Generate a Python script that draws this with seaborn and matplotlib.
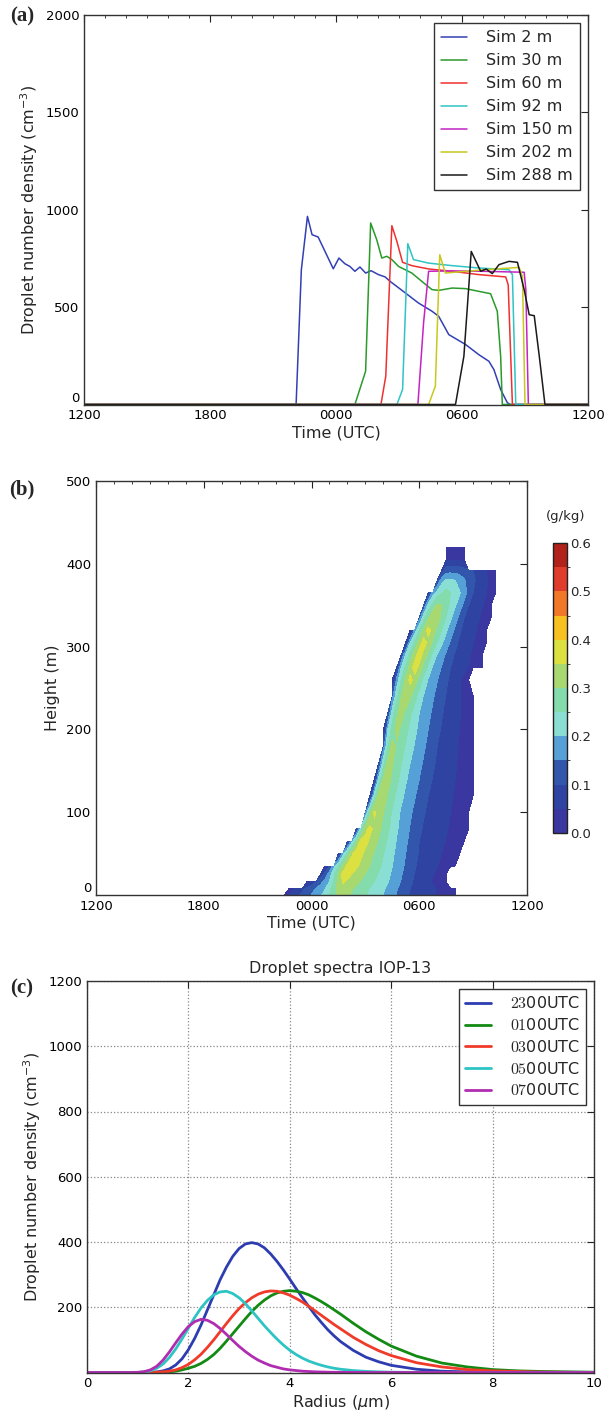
import matplotlib
matplotlib.use("Agg")

import matplotlib.pyplot as plt
import numpy as np
import seaborn as sns
from matplotlib.colors import BoundaryNorm, ListedColormap
from matplotlib.ticker import MultipleLocator


# ---------------------------------------------------------------------------
# Data (time axis = hours after 1200 UTC)
# ---------------------------------------------------------------------------

HOUR_TICKS = [0, 6, 12, 18, 24]
HOUR_LABELS = ["1200", "1800", "0000", "0600", "1200"]

# (a) droplet number density time series per model level
SIM_2M_T = [0, 10.1, 10.35, 10.64, 10.86, 11.15, 11.87, 12.14, 12.42, 12.66, 12.9, 13.14, 13.41,
            13.67, 14.02, 14.34, 14.58, 15.3, 15.93, 16.57, 16.89, 17.37, 18.17, 18.8, 19.28,
            19.52, 19.84, 20.16, 20.3, 24]
SIM_2M_N = [0, 0, 692, 966, 872, 860, 697, 752, 723, 709, 684, 706, 675,
            687, 667, 655, 632, 573, 521, 479, 453, 359, 308, 256, 222,
            179, 77, 9, 0, 0]

SIM_30M_T = [0, 12.9, 13.41, 13.65, 13.94, 14.18, 14.42, 14.66, 14.98, 15.61, 16.09, 16.57,
             16.89, 17.53, 18.17, 18.8, 19.36, 19.68, 19.84, 19.92, 24]
SIM_30M_N = [0, 0, 171, 932, 846, 752, 761, 744, 709, 675, 632, 590,
             586, 598, 595, 581, 569, 479, 248, 0, 0]

SIM_60M_T = [0, 14.14, 14.37, 14.66, 14.9, 15.17, 15.61, 16.41, 17.53, 18.8, 20.08, 20.2, 20.4, 24]
SIM_60M_N = [0, 0, 145, 918, 837, 730, 713, 696, 684, 667, 655, 615, 0, 0]

SIM_92M_T = [0, 14.9, 15.17, 15.42, 15.69, 16.41, 17.53, 18.8, 20.24, 20.4, 20.56, 24]
SIM_92M_N = [0, 0, 77, 826, 744, 726, 713, 701, 692, 667, 0, 0]

SIM_150M_T = [0, 15.9, 16.17, 16.41, 17.5, 19.0, 20.96, 21.04, 21.16, 24]
SIM_150M_N = [0, 0, 419, 684, 686, 684, 679, 590, 0, 0]

SIM_202M_T = [0, 16.41, 16.73, 16.94, 17.21, 18.17, 19.6, 20.72, 20.88, 21.0, 24]
SIM_202M_N = [0, 0, 94, 769, 675, 684, 696, 704, 658, 0, 0]

SIM_288M_T = [0, 17.69, 18.09, 18.44, 18.89, 19.15, 19.44, 19.76, 20.24, 20.64, 20.96, 21.2,
              21.44, 21.68, 21.95, 24]
SIM_288M_N = [0, 0, 248, 786, 684, 696, 672, 718, 735, 730, 590, 461,
              456, 248, 0, 0]

SIM_LABELS = ["Sim 2 m", "Sim 30 m", "Sim 60 m", "Sim 92 m", "Sim 150 m", "Sim 202 m", "Sim 288 m"]

# (b) liquid water content: per height row, times where the field crosses key values
CLOUD_HEIGHT = [0, 8, 16, 25, 35, 50, 65, 80, 100, 120, 140, 160, 180, 200,
                220, 240, 260, 275, 290, 305, 320, 335, 350, 365, 380, 392, 405, 420]
CLOUD_T_ON = [10.2, 10.6, 11.6, 12.3, 12.7, 13.4, 13.9, 14.4, 14.8, 15.2, 15.45, 15.65, 15.85, 16.0,
              16.15, 16.3, 16.5, 16.65, 16.85, 17.2, 17.5, 17.85, 18.1, 18.4, 18.8, 19.1, 19.3, 19.35]
CLOUD_T_UP20 = [12.6, 12.8, 13.0, 13.1, 13.3, 13.8, 14.3, 14.7, 15.1, 15.45, 15.7, 15.9, 16.1, 16.25,
                16.4, 16.6, 16.8, 17.0, 17.2, 17.5, 17.8, 18.1, 18.4, 18.8, 19.3, 19.4, 19.5, 19.5]
CLOUD_T_PEAK = [13.6, 13.6, 13.7, 13.8, 14.1, 14.4, 14.8, 15.1, 15.4, 15.8, 16.1, 16.3, 16.5, 16.7,
                16.9, 17.2, 17.5, 17.75, 18.0, 18.25, 18.5, 18.8, 19.1, 19.5, 19.7, 19.9, 19.9, 19.9]
CLOUD_Q_PEAK = [0.33, 0.34, 0.36, 0.38, 0.39, 0.39, 0.385, 0.38, 0.37, 0.345, 0.335, 0.325, 0.32, 0.32,
                0.33, 0.35, 0.37, 0.38, 0.38, 0.375, 0.37, 0.355, 0.32, 0.27, 0.21, 0.13, 0.045, 0.04]
CLOUD_T_DOWN20 = [16.0, 16.1, 16.3, 16.4, 16.5, 16.6, 16.7, 16.8, 16.9, 17.1, 17.3, 17.5, 17.7, 17.85,
                  18.0, 18.2, 18.45, 18.7, 18.95, 19.3, 19.55, 19.8, 20.05, 20.3, 20.0, 20.3, 20.1, 20.1]
CLOUD_T_DOWN10 = [17.4, 17.5, 17.6, 17.7, 17.8, 17.9, 18.0, 18.1, 18.3, 18.5, 18.7, 18.85, 19.0, 19.15,
                  19.3, 19.45, 19.6, 19.75, 19.9, 20.1, 20.3, 20.5, 20.75, 21.0, 21.1, 21.0, 20.3, 20.3]
CLOUD_T_OFF = [20.1, 20.1, 19.5, 19.7, 20.0, 20.3, 20.6, 20.8, 20.9, 21.0, 21.05, 21.1, 21.1, 21.1,
               21.1, 21.0, 20.9, 21.5, 21.6, 21.75, 21.9, 22.05, 22.2, 22.35, 22.35, 22.3, 20.65, 20.65]

LWC_LEVELS = [0.0, 0.05, 0.1, 0.15, 0.2, 0.25, 0.3, 0.35, 0.4, 0.45, 0.5, 0.55, 0.6]
LWC_COLORS = ["#3b37a0", "#2f44a2", "#3156ab", "#55a0d6", "#8adfd4", "#84dcad",
              "#a8d870", "#dce040", "#f8c020", "#f07828", "#e03c2c", "#b0221a"]

# (c) droplet spectra
RADIUS = [0, 0.5, 0.75, 0.875,
          1.0, 1.125, 1.25, 1.375, 1.5, 1.625, 1.75, 1.875, 2.0, 2.125, 2.25, 2.375, 2.5, 2.625,
          2.75, 2.875, 3.0, 3.125, 3.25, 3.375, 3.5, 3.625, 3.75, 3.875, 4.0, 4.125, 4.25, 4.375,
          4.5, 4.625, 4.75, 4.875, 5.0,
          5.25, 5.5, 5.75, 6.0, 6.5, 7.0, 7.5, 8.0, 8.5, 9.0, 10.0]
SPEC_2300 = [0, 0, 0, 0,
             0, 0, 0.5, 1.7, 5, 11, 23, 42, 70, 105, 146, 192, 238, 284,
             323, 356, 380, 394, 398, 394, 382, 363, 340, 314, 286, 257, 229, 202,
             176, 153, 131, 112, 95,
             68, 47, 33, 22, 10, 4, 2, 1, 0, 0, 0]
SPEC_0100 = [0, 0, 0, 0,
             0, 0, 0, 0.3, 1, 2, 4, 8, 13, 19, 28, 40, 55, 74,
             96, 119, 142, 165, 187, 206, 222, 235, 244, 249, 251, 249, 245, 238,
             228, 217, 205, 192, 179,
             151, 125, 102, 81, 50, 29, 17, 9, 5, 3, 1]
SPEC_0300 = [0, 0, 0, 0,
             0, 0.2, 0.5, 1, 2, 4, 8, 15, 25, 39, 56, 77, 100, 125,
             150, 174, 196, 214, 229, 240, 247, 250, 249, 244, 237, 227, 216, 203,
             189, 175, 161, 147, 134,
             108, 86, 67, 52, 30, 17, 9, 5, 3, 1, 0]
SPEC_0500 = [0, 0, 0, 0.1,
             0.4, 1.7, 5, 13, 26, 46, 72, 103, 136, 169, 198, 221, 238, 247,
             249, 242, 229, 211, 189, 166, 143, 122, 102, 84, 68, 55, 44, 35,
             28, 22, 17, 13, 10,
             6, 3.4, 2, 1, 0.3, 0, 0, 0, 0, 0, 0]
SPEC_0700 = [0, 0, 0, 0.1,
             0.6, 2.5, 8, 19, 38, 63, 91, 118, 141, 156, 163, 160, 150, 135,
             117, 98, 80, 64, 50, 38, 29, 21, 16, 11, 8, 6, 4, 3,
             2, 1.5, 1, 0.7, 0.5,
             0.2, 0, 0, 0, 0, 0, 0, 0, 0, 0, 0]
SPEC_LABELS = [r"$23$00UTC", r"$01$00UTC", r"$03$00UTC", r"$05$00UTC", r"$07$00UTC"]


SIM_COLORS = ["#3340b4", "#2a9a2a", "#f03030", "#30c4c4", "#c424c4", "#c8c81e", "#1a1a1a"]
SPEC_COLORS = ["#2d3db0", "#138a13", "#f03a2a", "#2ec4c4", "#b02cb0"]

W, H = 612, 1416


def axes_rect(left, top, right, bottom):
    """Pixel box -> figure fraction rect."""
    return [left / W, 1 - bottom / H, (right - left) / W, (bottom - top) / H]


def style_axes(ax):
    ax.tick_params(which="both", direction="in", top=True, right=True, labelsize=9.5,
                   colors="#222222", labelcolor="black")
    ax.tick_params(which="major", length=5, width=0.8)
    ax.tick_params(which="minor", length=2.5, width=0.6)
    for sp in ax.spines.values():
        sp.set_visible(True)
        sp.set_color("#333333")
        sp.set_linewidth(1.0)


def time_axis(ax):
    ax.set_xlim(0, 24)
    ax.set_xticks(HOUR_TICKS)
    ax.set_xticklabels(HOUR_LABELS)
    ax.xaxis.set_minor_locator(MultipleLocator(1))
    ax.set_xlabel("Time (UTC)", fontsize=11.5, labelpad=2)


def lift_zero_label(ax):
    """The y '0' label sits just above the first x label, as in the reference."""
    ax.yaxis.get_major_ticks()[0].label1.set_verticalalignment("bottom")


def plot_timeseries(ax):
    series = [
        (SIM_2M_T, SIM_2M_N), (SIM_30M_T, SIM_30M_N), (SIM_60M_T, SIM_60M_N),
        (SIM_92M_T, SIM_92M_N), (SIM_150M_T, SIM_150M_N), (SIM_202M_T, SIM_202M_N),
        (SIM_288M_T, SIM_288M_N),
    ]
    for (t, n), label, color in zip(series, SIM_LABELS, SIM_COLORS):
        sns.lineplot(x=t, y=n, color=color, linewidth=1.1, label=label, ax=ax)

    time_axis(ax)
    ax.set_ylim(0, 2000)
    ax.set_yticks([0, 500, 1000, 1500, 2000])
    ax.set_ylabel(r"Droplet number density (cm$^{-3}$)", fontsize=11.5)
    style_axes(ax)
    lift_zero_label(ax)
    leg = ax.legend(loc="upper right", fontsize=11.5, frameon=True, fancybox=False,
                    edgecolor="#333333", framealpha=1, handlelength=1.6, handletextpad=1.2,
                    labelspacing=0.5, borderpad=0.45, borderaxespad=0.5)
    leg.get_frame().set_linewidth(1.0)


def build_lwc_field():
    t_grid = np.arange(9.0, 23.01, 0.25)
    rows = []
    for on, up, pk, q, d20, d10, off in zip(CLOUD_T_ON, CLOUD_T_UP20, CLOUD_T_PEAK, CLOUD_Q_PEAK,
                                            CLOUD_T_DOWN20, CLOUD_T_DOWN10, CLOUD_T_OFF):
        knots_t = [on, up, pk, d20, d10, off]
        knots_q = [0.01, min(0.2, q), q, min(0.2, q), min(0.1, q), 0.01]
        row = np.interp(t_grid, knots_t, knots_q)
        row[(t_grid < on) | (t_grid > off)] = np.nan
        rows.append(row)
    return t_grid, np.array(CLOUD_HEIGHT, dtype=float), np.array(rows)


def plot_lwc(ax, cax, fig):
    t_grid, z, q = build_lwc_field()
    cmap = ListedColormap(LWC_COLORS)
    norm = BoundaryNorm(LWC_LEVELS, cmap.N)
    cs = ax.contourf(t_grid, z, np.ma.masked_invalid(q), levels=LWC_LEVELS, cmap=cmap, norm=norm)

    time_axis(ax)
    ax.set_ylim(0, 500)
    ax.set_yticks([0, 100, 200, 300, 400, 500])
    ax.set_ylabel("Height (m)", fontsize=11.5)
    style_axes(ax)
    lift_zero_label(ax)

    cb = fig.colorbar(cs, cax=cax, ticks=[0.0, 0.1, 0.2, 0.3, 0.4, 0.5, 0.6], format="%.1f")
    cb.outline.set_linewidth(1.0)
    cb.outline.set_edgecolor("#222222")
    cax.tick_params(direction="in", length=4, width=0.8, labelsize=9.5, pad=2)
    fig.text(566 / W, 1 - 517 / H, "(g/kg)", fontsize=9.5, ha="center", va="center")


def plot_spectra(ax):
    spectra = [SPEC_2300, SPEC_0100, SPEC_0300, SPEC_0500, SPEC_0700]
    for n, label, color in zip(spectra, SPEC_LABELS, SPEC_COLORS):
        sns.lineplot(x=RADIUS, y=n, color=color, linewidth=2.0, label=label, ax=ax)

    ax.set_xlim(0, 10)
    ax.set_ylim(0, 1200)
    ax.set_xticks([0, 2, 4, 6, 8, 10])
    ax.set_yticks([200, 400, 600, 800, 1000, 1200])
    ax.grid(True, color="#888888", linestyle=":", linewidth=0.9)
    ax.set_xlabel(r"Radius ($\mu$m)", fontsize=11.5, labelpad=2)
    ax.set_ylabel(r"Droplet number density (cm$^{-3}$)", fontsize=11.5)
    ax.set_title("Droplet spectra IOP-13", fontsize=11.5, pad=6)
    style_axes(ax)
    leg = ax.legend(loc="upper right", fontsize=11.5, frameon=True, fancybox=False,
                    edgecolor="#333333", framealpha=1, handlelength=1.6, handletextpad=1.2,
                    labelspacing=0.36, borderpad=0.4, borderaxespad=0.5)
    leg.get_frame().set_linewidth(1.0)
    for txt in leg.get_texts():
        txt.set_math_fontfamily("cm")


def main() -> None:
    sns.set_style("white")
    plt.rcParams["font.family"] = ["DejaVu Sans"]
    plt.rcParams["axes.unicode_minus"] = True

    fig = plt.figure(figsize=(W / 100, H / 100), dpi=100)
    ax_a = fig.add_axes(axes_rect(84, 15, 588, 404.5))
    ax_b = fig.add_axes(axes_rect(96, 481, 527, 895))
    cax = fig.add_axes(axes_rect(553, 543, 567, 833))
    ax_c = fig.add_axes(axes_rect(87, 981, 594, 1372.5))

    plot_timeseries(ax_a)
    plot_lwc(ax_b, cax, fig)
    plot_spectra(ax_c)

    for label, y in [("(a)", 16), ("(b)", 489), ("(c)", 988)]:
        fig.text(22 / W, 1 - y / H, label, fontsize=15, fontweight="bold",
                 family="Liberation Serif", ha="center", va="center")

    fig.savefig("out.png", dpi=100)
    plt.close(fig)


if __name__ == "__main__":
    main()
